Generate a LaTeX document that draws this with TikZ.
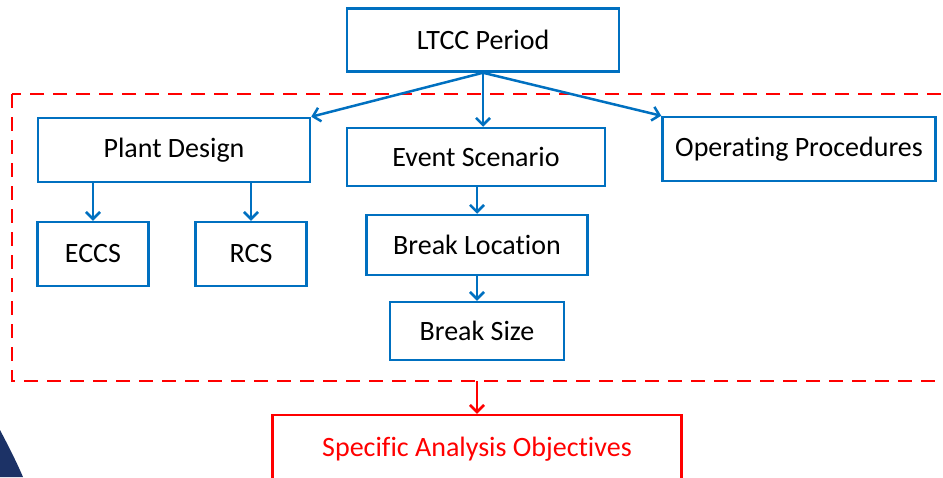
\documentclass[tikz,border=0pt]{standalone}
\usepackage{fontspec}
\setmainfont{Carlito}[Ligatures={NoCommon, NoContextual}]
\usetikzlibrary{arrows.meta}
\definecolor{boxblue}{RGB}{0,112,192}
\definecolor{objred}{RGB}{255,0,0}
\definecolor{navy}{RGB}{28,50,102}

\begin{document}
\begin{tikzpicture}[x=1pt, y=-1pt,
        box/.style={draw=boxblue, line width=2.5pt, inner sep=0pt,
            font=\fontsize{28}{32}\selectfont},
        link/.style={draw=boxblue, line width=2.5pt,
            -{Straight Barb[length=7pt, width=14pt]}}]

    % 0. Canvas
    \useasboundingbox (0,0) rectangle (943,477);
    \clip (0,0) rectangle (943,477);

    % corner decoration
    \fill[navy] (0,430) .. controls (9,447) and (17,463) .. (23,477) -- (0,477) -- cycle;

    % 1. Top level
    \node[box, minimum width=272pt, minimum height=63pt] (ltcc) at (483,40) {LTCC Period};

    % 2. Second level
    \node[box, minimum width=272pt, minimum height=64pt] (plant) at (174,150) {Plant Design};
    \node[box, minimum width=258pt, minimum height=58pt] (event) at (476,157) {Event Scenario};
    \node[box, minimum width=273pt, minimum height=64pt] (ops) at (799,149) {Operating Procedures};

    % 3. Third level
    \node[box, minimum width=111pt, minimum height=64pt] (eccs) at (93,254) {ECCS};
    \node[box, minimum width=111pt, minimum height=64pt] (rcs) at (251,254) {RCS};
    \node[box, minimum width=221pt, minimum height=60pt] (loc) at (477,245) {Break Location};
    \node[box, minimum width=174pt, minimum height=58pt] (size) at (477,331) {Break Size};

    % 4. Dashed frame round the influencing factors
    \draw[objred, line width=2.5pt, dash pattern=on 14pt off 9pt] (12,94) rectangle (960,381);
    \coordinate (frame) at (477,381);

    % 5. Objectives
    \node[box, draw=objred, text=objred, minimum width=409pt, minimum height=68pt] (sao) at (477,449) {Specific Analysis Objectives};

    % 6. Connectors
    \draw[link] (ltcc.south) -- (plant.north east);
    \draw[link] (ltcc.south) -- (event.north -| ltcc.south);
    \draw[link] (ltcc.south) -- (ops.north west);
    \foreach \child in {eccs, rcs} {
        \draw[link] (plant.south -| \child) -- (\child.north);
    }
    \draw[link] (event.south -| loc) -- (loc.north);
    \draw[link] (loc.south) -- (size.north);
    \draw[link, draw=objred] (frame) -- (sao.north);

\end{tikzpicture}
\end{document}
